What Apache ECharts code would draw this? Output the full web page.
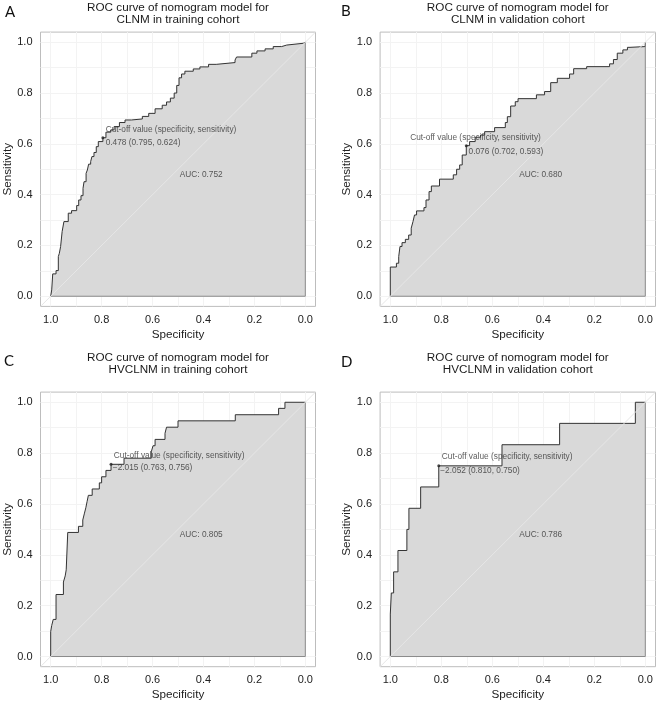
<!DOCTYPE html>
<html>
<head>
<meta charset="utf-8">
<script src="https://cdn.jsdelivr.net/npm/echarts@6/dist/echarts.min.js"></script>
<style>
  html, body { margin: 0; padding: 0; background: #fff; }
  #main { width: 657px; height: 703px; }
</style>
</head>
<body>
<div id="main"></div>
<script>
// A: CLNM, training cohort
var specA = [1.000, 0.996, 0.992, 0.979, 0.970, 0.966, 0.961, 0.955, 0.948, 0.931, 0.918, 0.898, 0.890, 0.881, 0.873, 0.869, 0.861, 0.856, 0.851, 0.843, 0.838, 0.830, 0.821, 0.813, 0.795, 0.783, 0.764, 0.751, 0.730, 0.708, 0.683, 0.640, 0.615, 0.590, 0.562, 0.545, 0.530, 0.515, 0.505, 0.496, 0.486, 0.473, 0.440, 0.414, 0.380, 0.350, 0.276, 0.270, 0.210, 0.190, 0.158, 0.126, 0.093, 0.073, 0.008, 0.000];
var sensA = [0.000, 0.025, 0.088, 0.101, 0.156, 0.169, 0.196, 0.255, 0.294, 0.327, 0.337, 0.357, 0.379, 0.396, 0.425, 0.451, 0.484, 0.497, 0.520, 0.530, 0.550, 0.566, 0.589, 0.609, 0.624, 0.646, 0.655, 0.668, 0.684, 0.694, 0.698, 0.708, 0.720, 0.738, 0.752, 0.765, 0.780, 0.800, 0.830, 0.860, 0.875, 0.886, 0.895, 0.903, 0.913, 0.920, 0.930, 0.942, 0.957, 0.966, 0.974, 0.983, 0.989, 0.996, 1.000, 1.000];

// B: CLNM, validation cohort
var specB = [1.000, 1.000, 0.976, 0.967, 0.962, 0.954, 0.941, 0.928, 0.918, 0.911, 0.905, 0.897, 0.868, 0.860, 0.848, 0.839, 0.807, 0.753, 0.740, 0.728, 0.718, 0.702, 0.689, 0.667, 0.646, 0.630, 0.591, 0.549, 0.541, 0.528, 0.510, 0.499, 0.427, 0.395, 0.371, 0.345, 0.297, 0.281, 0.230, 0.140, 0.125, 0.110, 0.088, 0.070, 0.060, 0.000];
var sensB = [0.000, 0.115, 0.130, 0.156, 0.196, 0.211, 0.224, 0.241, 0.268, 0.294, 0.320, 0.336, 0.349, 0.379, 0.412, 0.434, 0.461, 0.478, 0.500, 0.517, 0.556, 0.593, 0.609, 0.626, 0.635, 0.648, 0.664, 0.684, 0.707, 0.749, 0.766, 0.778, 0.793, 0.806, 0.841, 0.858, 0.875, 0.896, 0.904, 0.915, 0.932, 0.957, 0.970, 0.980, 0.983, 1.000];

// C: HVCLNM, training cohort
var specC = [1.000, 1.000, 0.996, 0.990, 0.979, 0.950, 0.943, 0.939, 0.933, 0.891, 0.874, 0.868, 0.862, 0.857, 0.852, 0.837, 0.809, 0.800, 0.783, 0.763, 0.712, 0.605, 0.598, 0.590, 0.551, 0.545, 0.500, 0.275, 0.105, 0.080, 0.000];
var sensC = [0.000, 0.098, 0.122, 0.146, 0.244, 0.293, 0.317, 0.341, 0.488, 0.512, 0.537, 0.561, 0.585, 0.610, 0.634, 0.659, 0.683, 0.707, 0.732, 0.756, 0.780, 0.805, 0.829, 0.854, 0.878, 0.902, 0.927, 0.951, 0.976, 1.000, 1.000];

// D: HVCLNM, validation cohort
var specD = [1.000, 1.000, 0.996, 0.987, 0.970, 0.935, 0.927, 0.881, 0.810, 0.562, 0.336, 0.039, 0.000];
var sensD = [0.000, 0.167, 0.250, 0.333, 0.417, 0.500, 0.583, 0.667, 0.750, 0.833, 0.917, 1.000, 1.000];

// cut-off points (specificity, sensitivity) and AUCs
var cutSpec = [0.795, 0.702, 0.763, 0.810];
var cutSens = [0.624, 0.593, 0.756, 0.750];
var cutThr = ['0.478', '0.076', '\u22122.015', '\u22122.052'];
var aucs = ['0.752', '0.680', '0.805', '0.786'];

var tickValues = [0, 0.2, 0.4, 0.6, 0.8, 1];
var gridValues = [0, 0.1, 0.2, 0.3, 0.4, 0.5, 0.6, 0.7, 0.8, 0.9, 1];
var titles = [
  'ROC curve of nomogram model for\nCLNM in training cohort',
  'ROC curve of nomogram model for\nCLNM in validation cohort',
  'ROC curve of nomogram model for\nHVCLNM in training cohort',
  'ROC curve of nomogram model for\nHVCLNM in validation cohort'
];
var letters = ['A', 'B', 'C', 'D'];

var specs = [specA, specB, specC, specD];
var senss = [sensA, sensB, sensC, sensD];

// layout of the four panels
var boxes = [
  { left: 40.5, top: 32.1, width: 275, height: 274.3, letterX: 5, letterY: 12.5, titleTop: 1 },
  { left: 380.1, top: 32.1, width: 275.4, height: 274.3, letterX: 341, letterY: 11.5, titleTop: 1 },
  { left: 40.5, top: 392.1, width: 275, height: 274.6, letterX: 4, letterY: 361.5, titleTop: 351 },
  { left: 380.1, top: 392.1, width: 275.4, height: 274.6, letterX: 341, letterY: 362, titleTop: 351 }
];
// where the annotation lines start, in data units
var noteLine1 = [[0.786, 0.657], [0.924, 0.624], [0.754, 0.789], [0.800, 0.784]];
var noteLine2 = [[0.786, 0.606], [0.695, 0.569], [0.758, 0.741], [0.806, 0.731]];
var noteAuc = [[0.495, 0.480], [0.496, 0.478], [0.495, 0.478], [0.496, 0.478]];

var FONT = '"Liberation Sans", Arial, sans-serif';

function pairs(xs, ys) {
  return xs.map(function (x, i) {
    return [x, ys[i]];
  });
}

var chartDom = document.getElementById('main');
var myChart = echarts.init(chartDom, null, { renderer: 'canvas' });

var grid = [], xAxis = [], yAxis = [], title = [], series = [], graphics = [];

for (var i = 0; i < 4; i++) {
  var b = boxes[i];
  grid.push({
    left: b.left, top: b.top, width: b.width, height: b.height,
    show: true, borderColor: '#bdbdbd', borderWidth: 1, backgroundColor: '#fff',
    containLabel: false, outerBoundsMode: 'none'
  });
  xAxis.push({
    type: 'value', gridIndex: i, min: -0.04, max: 1.04, inverse: true,
    name: 'Specificity', nameLocation: 'middle', nameGap: 22,
    nameTextStyle: { fontSize: 11.7, color: '#222', fontFamily: FONT },
    axisLine: { show: false },
    axisTick: { show: true, customValues: tickValues, length: 3, lineStyle: { color: '#aaa' } },
    axisLabel: {
      customValues: tickValues, margin: 8, fontSize: 11, color: '#222', fontFamily: FONT,
      formatter: function (v) { return v.toFixed(1); }
    },
    splitLine: { show: false }
  });
  yAxis.push({
    type: 'value', gridIndex: i, min: -0.04, max: 1.04,
    name: 'Sensitivity', nameLocation: 'middle', nameGap: 27,
    nameTextStyle: { fontSize: 11.7, color: '#222', fontFamily: FONT },
    axisLine: { show: false },
    axisTick: { show: true, customValues: tickValues, length: 3, lineStyle: { color: '#aaa' } },
    axisLabel: {
      customValues: tickValues, margin: 8, fontSize: 11, color: '#222', fontFamily: FONT,
      formatter: function (v) { return v.toFixed(1); }
    },
    splitLine: { show: false }
  });
  title.push({
    text: titles[i], left: b.left + b.width / 2, top: b.titleTop, textAlign: 'center', padding: 0,
    textStyle: { fontSize: 11.7, fontWeight: 'normal', color: '#1a1a1a', lineHeight: 12.7, fontFamily: FONT }
  });
  graphics.push({
    type: 'text', x: b.letterX, y: b.letterY,
    style: { text: letters[i], font: '15px Lato, "Open Sans", sans-serif', fill: '#111', verticalAlign: 'middle' }
  });

  // faint grid, kept under the shaded area
  series.push({
    type: 'line', xAxisIndex: i, yAxisIndex: i, data: [], z: 1, silent: true,
    markLine: {
      z: 1, silent: true, symbol: ['none', 'none'], label: { show: false }, animation: false,
      lineStyle: { color: '#f3f3f3', width: 1, type: 'solid' },
      data: gridValues.map(function (v) { return { xAxis: v }; })
        .concat(gridValues.map(function (v) { return { yAxis: v }; }))
    }
  });
  // ROC curve with shaded AUC
  series.push({
    type: 'line', xAxisIndex: i, yAxisIndex: i, z: 2, step: 'end', showSymbol: false, silent: true,
    data: pairs(specs[i], senss[i]),
    lineStyle: { color: '#333', width: 1 },
    areaStyle: { color: '#d9d9d9', opacity: 1 }
  });
  // polygon border (bottom and right edge of the shaded area)
  series.push({
    type: 'line', xAxisIndex: i, yAxisIndex: i, z: 3, showSymbol: false, silent: true,
    data: [[1, 0], [0, 0], [0, 1]],
    lineStyle: { color: '#8a8a8a', width: 1 }
  });
  // chance diagonal
  series.push({
    type: 'line', xAxisIndex: i, yAxisIndex: i, z: 4, showSymbol: false, silent: true,
    data: [[1.04, -0.04], [-0.04, 1.04]],
    lineStyle: { color: '#e6e6e6', width: 1 }
  });
  // cut-off point
  series.push({
    type: 'scatter', xAxisIndex: i, yAxisIndex: i, z: 6, silent: true,
    symbolSize: 3, itemStyle: { color: '#222' },
    data: [[cutSpec[i], cutSens[i]]]
  });
  // annotation texts
  var noteLabel = { show: true, position: 'right', distance: 0, fontSize: 8.3, color: '#333', fontFamily: FONT };
  series.push({
    type: 'scatter', xAxisIndex: i, yAxisIndex: i, z: 5, silent: true,
    symbolSize: 1, itemStyle: { color: 'rgba(0,0,0,0)' },
    label: noteLabel,
    data: [
      { value: noteLine1[i], label: { formatter: 'Cut-off value (specificity, sensitivity)' } },
      { value: noteLine2[i], label: { formatter: cutThr[i] + ' (' + cutSpec[i].toFixed(3) + ', ' + cutSens[i].toFixed(3) + ')' } },
      { value: noteAuc[i], label: { formatter: 'AUC: ' + aucs[i] } }
    ]
  });
}

var option = {
  animation: false,
  backgroundColor: '#fff',
  title: title,
  grid: grid,
  xAxis: xAxis,
  yAxis: yAxis,
  series: series,
  graphic: { elements: graphics }
};

myChart.setOption(option);
</script>
</body>
</html>
